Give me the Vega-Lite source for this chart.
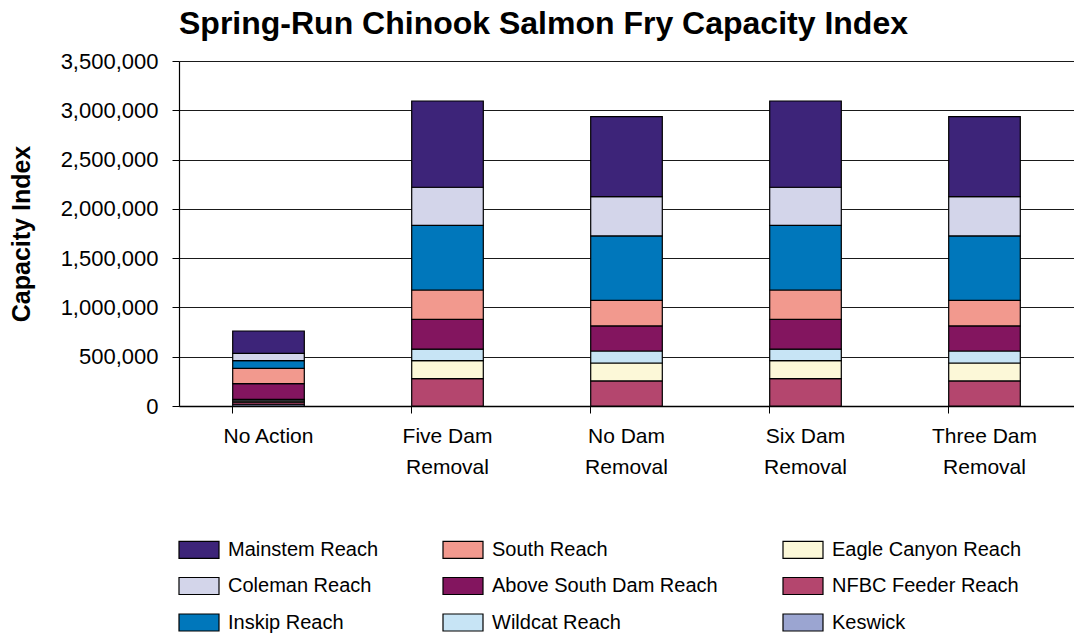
{
  "$schema": "https://vega.github.io/schema/vega-lite/v6.json",
  "autosize": "none",
  "padding": {"left": 179, "top": 61, "right": 0, "bottom": 231},
  "width": 895,
  "height": 345,
  "background": "white",
  "config": {
    "font": "Liberation Sans",
    "view": {"stroke": null}
  },
  "title": {
    "text": "Spring-Run Chinook Salmon Fry Capacity Index",
    "anchor": "start",
    "frame": "group",
    "font": "Liberation Sans",
    "fontSize": 32,
    "fontWeight": "bold",
    "color": "#000000",
    "offset": 20,
    "dy": 11
  },
  "data": {
    "values": [
      {"scenario": "No Action", "reach": "Keswick", "value": 18000},
      {"scenario": "No Action", "reach": "NFBC Feeder Reach", "value": 20000},
      {"scenario": "No Action", "reach": "Eagle Canyon Reach", "value": 15000},
      {"scenario": "No Action", "reach": "Wildcat Reach", "value": 15000},
      {"scenario": "No Action", "reach": "Above South Dam Reach", "value": 159000},
      {"scenario": "No Action", "reach": "South Reach", "value": 155000},
      {"scenario": "No Action", "reach": "Inskip Reach", "value": 78000},
      {"scenario": "No Action", "reach": "Coleman Reach", "value": 74000},
      {"scenario": "No Action", "reach": "Mainstem Reach", "value": 227000},

      {"scenario": "Five Dam Removal", "reach": "NFBC Feeder Reach", "value": 277000},
      {"scenario": "Five Dam Removal", "reach": "Eagle Canyon Reach", "value": 183000},
      {"scenario": "Five Dam Removal", "reach": "Wildcat Reach", "value": 118000},
      {"scenario": "Five Dam Removal", "reach": "Above South Dam Reach", "value": 301000},
      {"scenario": "Five Dam Removal", "reach": "South Reach", "value": 298000},
      {"scenario": "Five Dam Removal", "reach": "Inskip Reach", "value": 656000},
      {"scenario": "Five Dam Removal", "reach": "Coleman Reach", "value": 386000},
      {"scenario": "Five Dam Removal", "reach": "Mainstem Reach", "value": 875000},

      {"scenario": "No Dam Removal", "reach": "NFBC Feeder Reach", "value": 254000},
      {"scenario": "No Dam Removal", "reach": "Eagle Canyon Reach", "value": 182000},
      {"scenario": "No Dam Removal", "reach": "Wildcat Reach", "value": 122000},
      {"scenario": "No Dam Removal", "reach": "Above South Dam Reach", "value": 254000},
      {"scenario": "No Dam Removal", "reach": "South Reach", "value": 260000},
      {"scenario": "No Dam Removal", "reach": "Inskip Reach", "value": 653000},
      {"scenario": "No Dam Removal", "reach": "Coleman Reach", "value": 399000},
      {"scenario": "No Dam Removal", "reach": "Mainstem Reach", "value": 811000},

      {"scenario": "Six Dam Removal", "reach": "NFBC Feeder Reach", "value": 277000},
      {"scenario": "Six Dam Removal", "reach": "Eagle Canyon Reach", "value": 183000},
      {"scenario": "Six Dam Removal", "reach": "Wildcat Reach", "value": 118000},
      {"scenario": "Six Dam Removal", "reach": "Above South Dam Reach", "value": 301000},
      {"scenario": "Six Dam Removal", "reach": "South Reach", "value": 298000},
      {"scenario": "Six Dam Removal", "reach": "Inskip Reach", "value": 656000},
      {"scenario": "Six Dam Removal", "reach": "Coleman Reach", "value": 386000},
      {"scenario": "Six Dam Removal", "reach": "Mainstem Reach", "value": 875000},

      {"scenario": "Three Dam Removal", "reach": "NFBC Feeder Reach", "value": 254000},
      {"scenario": "Three Dam Removal", "reach": "Eagle Canyon Reach", "value": 182000},
      {"scenario": "Three Dam Removal", "reach": "Wildcat Reach", "value": 122000},
      {"scenario": "Three Dam Removal", "reach": "Above South Dam Reach", "value": 254000},
      {"scenario": "Three Dam Removal", "reach": "South Reach", "value": 260000},
      {"scenario": "Three Dam Removal", "reach": "Inskip Reach", "value": 653000},
      {"scenario": "Three Dam Removal", "reach": "Coleman Reach", "value": 399000},
      {"scenario": "Three Dam Removal", "reach": "Mainstem Reach", "value": 811000}
    ]
  },
  "transform": [
    {"calculate": "indexof(['Keswick','NFBC Feeder Reach','Eagle Canyon Reach','Wildcat Reach','Above South Dam Reach','South Reach','Inskip Reach','Coleman Reach','Mainstem Reach'], datum.reach)", "as": "stackIdx"}
  ],
  "mark": {"type": "bar", "stroke": "#000000", "strokeWidth": 1.2},
  "encoding": {
    "x": {
      "field": "scenario",
      "type": "nominal",
      "sort": ["No Action", "Five Dam Removal", "No Dam Removal", "Six Dam Removal", "Three Dam Removal"],
      "scale": {"paddingInner": 0.6, "paddingOuter": 0.3},
      "axis": {
        "title": null,
        "labelAngle": 0,
        "labelFontSize": 21,
        "labelColor": "#000000",
        "labelPadding": 12,
        "labelLineHeight": 31,
        "labelExpr": "indexof(datum.label,' Removal') > 0 ? [replace(datum.label,' Removal',''), 'Removal'] : datum.label",
        "bandPosition": 0,
        "tickSize": 7,
        "tickColor": "#000000",
        "domainColor": "#000000",
        "domainWidth": 1.5,
        "grid": false
      }
    },
    "y": {
      "field": "value",
      "type": "quantitative",
      "aggregate": "sum",
      "scale": {"domain": [0, 3500000], "nice": false},
      "axis": {
        "title": "Capacity Index",
        "titleFontSize": 25,
        "titleFontWeight": "bold",
        "titleColor": "#000000",
        "titlePadding": 26,
        "values": [0, 500000, 1000000, 1500000, 2000000, 2500000, 3000000, 3500000],
        "format": ",.0f",
        "labelFontSize": 22,
        "labelColor": "#000000",
        "labelPadding": 14,
        "tickSize": 7,
        "tickColor": "#000000",
        "domainColor": "#000000",
        "domainWidth": 1.2,
        "grid": true,
        "gridColor": "#1a1a1a",
        "gridWidth": 1.2
      }
    },
    "color": {
      "field": "reach",
      "type": "nominal",
      "scale": {
        "domain": ["Mainstem Reach", "South Reach", "Eagle Canyon Reach", "Coleman Reach", "Above South Dam Reach", "NFBC Feeder Reach", "Inskip Reach", "Wildcat Reach", "Keswick"],
        "range": ["#3D2479", "#F2998E", "#FCF8D8", "#D3D5EA", "#83155F", "#B4466E", "#0077BB", "#C7E4F5", "#9BA5D1"]
      },
      "legend": {
        "title": null,
        "orient": "none",
        "legendX": 6.5,
        "legendY": 475,
        "direction": "horizontal",
        "columns": 3,
        "columnPadding": 62,
        "rowPadding": 11.5,
        "padding": 0,
        "symbolType": "M-1.6,-0.68H1.6V0.68H-1.6Z",
        "symbolSize": 625,
        "symbolStrokeColor": "#000000",
        "symbolStrokeWidth": 1.2,
        "symbolOpacity": 1,
        "labelFontSize": 20,
        "labelColor": "#000000",
        "labelOffset": 15.5,
        "labelLimit": 400
      }
    },
    "order": {"field": "stackIdx", "type": "quantitative", "sort": "ascending"}
  }
}
